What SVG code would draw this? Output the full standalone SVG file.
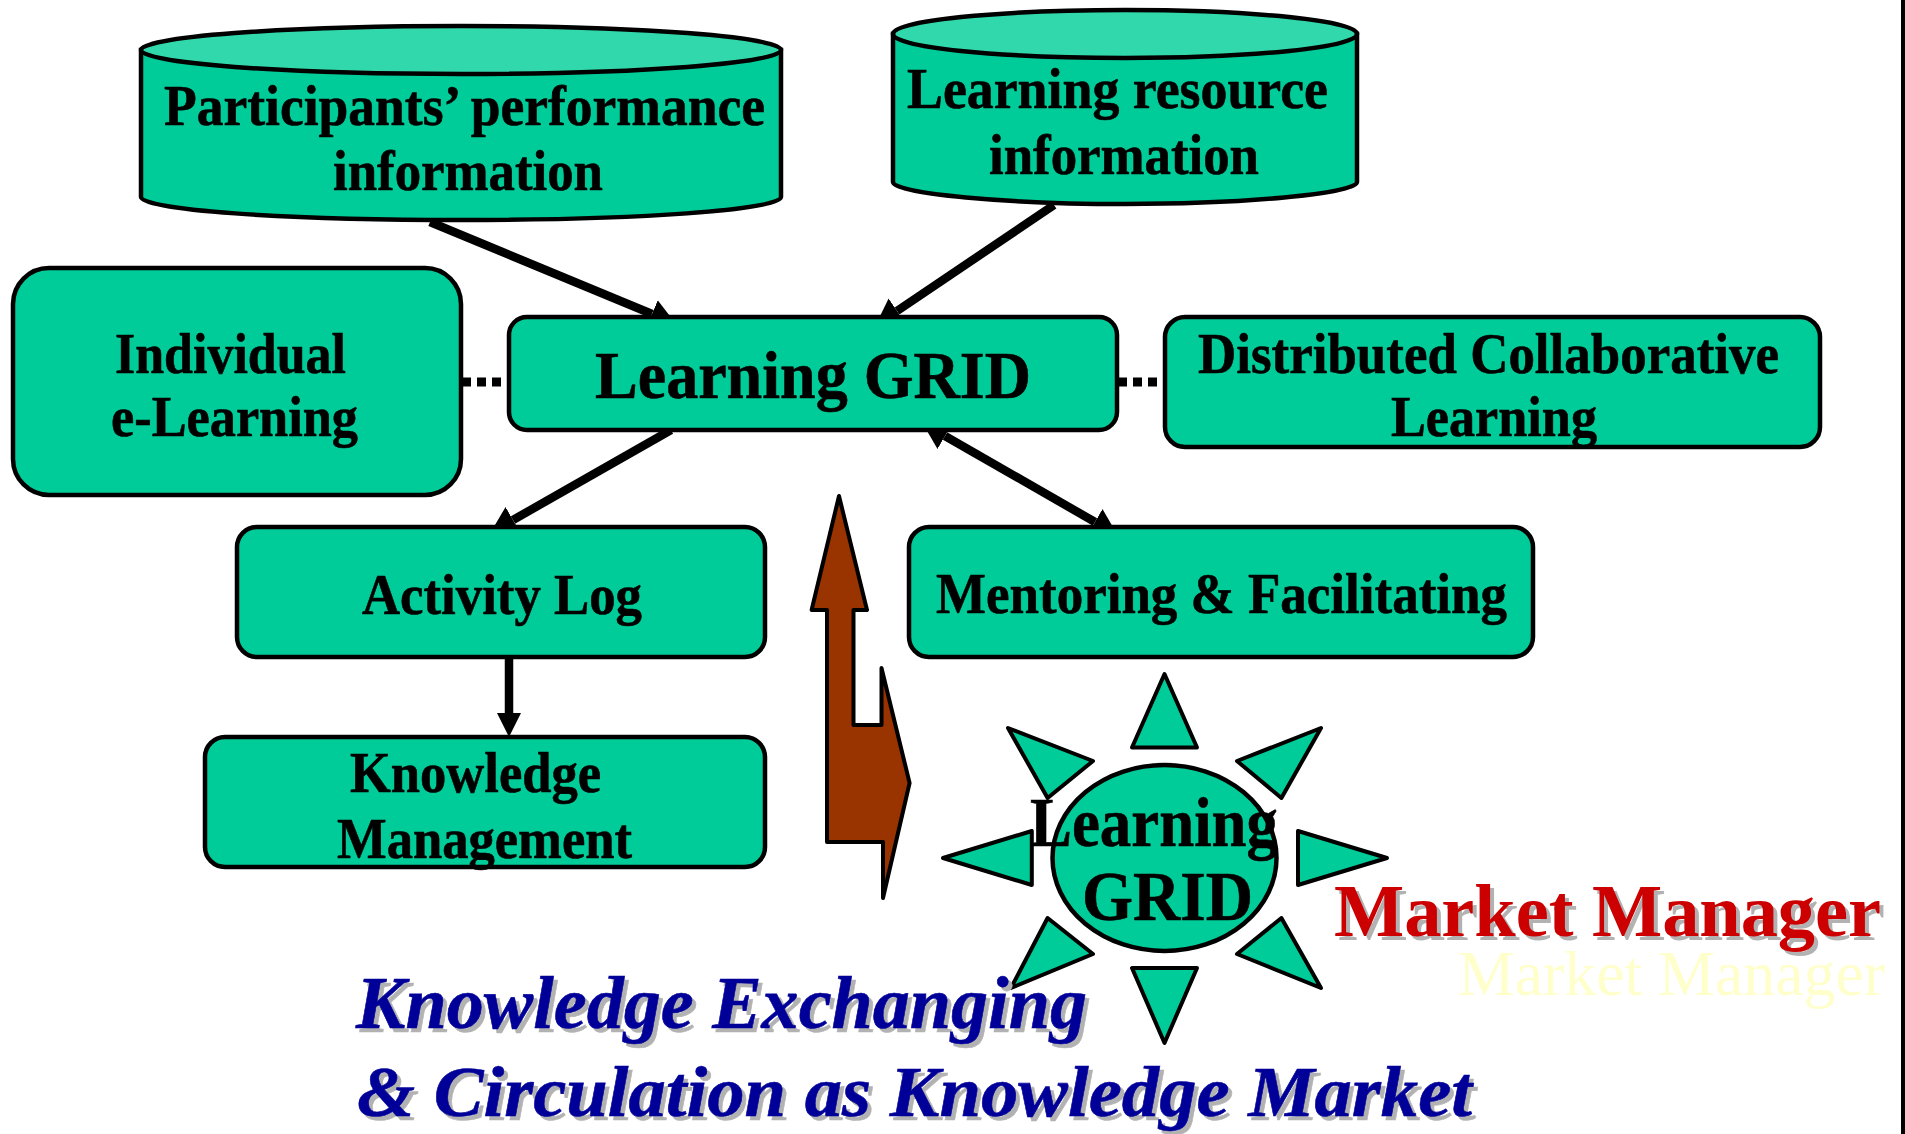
<svg xmlns="http://www.w3.org/2000/svg" width="1905" height="1134" viewBox="0 0 1905 1134">
<defs>
<style>
.box{fill:#00cc99;stroke:#000;stroke-width:4.5}
.lid{fill:#30d8ac;stroke:#000;stroke-width:4.5}
.tri{fill:#00cc99;stroke:#000;stroke-width:4;stroke-linejoin:round}
.con{stroke:#000;stroke-width:8.5;fill:none}
.dot{stroke:#000;stroke-width:9;fill:none;stroke-dasharray:9 6}
.t{font-family:"Liberation Serif","Times New Roman",serif;font-weight:bold;fill:#000;stroke:#000;stroke-width:.6;font-size:56px}
.big{font-size:67px}
.sun{font-size:69px}
.mk{font-family:"Liberation Serif","Times New Roman",serif;font-weight:bold;font-size:74px;fill:#cc0000;filter:drop-shadow(4px 4px 0 #b2b2b2)}
.pale{font-family:"Liberation Serif","Times New Roman",serif;font-size:63px;fill:#ffffcc}
.kn{font-family:"Liberation Serif","Times New Roman",serif;font-weight:bold;font-style:italic;font-size:74px;fill:#000099;stroke:#000099;stroke-width:.6;filter:drop-shadow(4px 4px 0 #b2b2b2)}
</style>
<marker id="h" markerUnits="userSpaceOnUse" markerWidth="28" markerHeight="32" refX="0" refY="15" orient="auto-start-reverse"><path d="M0,0L26,15L0,30Z" fill="#000"/></marker>
<marker id="hs" markerUnits="userSpaceOnUse" markerWidth="26" markerHeight="26" refX="0" refY="12" orient="auto"><path d="M0,0L24,12L0,24Z" fill="#000"/></marker>
</defs>
<rect width="1905" height="1134" fill="#fff"/>
<rect x="1901" y="0" width="4" height="1134" fill="#000"/>
<g id="connectors">
<line class="con" x1="430" y1="222" x2="652" y2="314" marker-end="url(#h)"/>
<line class="con" x1="1054" y1="205" x2="897" y2="311" marker-end="url(#h)"/>
<line class="con" x1="671" y1="430" x2="513" y2="520" marker-end="url(#h)"/>
<line class="con" x1="945" y1="436" x2="1095" y2="522" marker-start="url(#h)" marker-end="url(#h)"/>
<line class="con" x1="509" y1="657" x2="509" y2="713" marker-end="url(#hs)"/>
<line class="dot" x1="462" y1="382" x2="504" y2="382"/>
<line class="dot" x1="1118" y1="382" x2="1158" y2="382"/>
</g>
<g id="participants">
<path class="box" d="M141,50V197C141,210 285,220 461,220C637,220 781,210 781,197V50Z"/>
<ellipse class="lid" cx="461" cy="50" rx="320" ry="24"/>
<text class="t" x="164" y="125" textLength="601" lengthAdjust="spacingAndGlyphs">Participants’ performance</text>
<text class="t" x="333" y="190" textLength="270" lengthAdjust="spacingAndGlyphs">information</text>
</g>
<g id="resource">
<path class="box" d="M893,34V182C893,194 1010,204 1125,204C1240,204 1357,194 1357,182V34Z"/>
<ellipse class="lid" cx="1125" cy="34" rx="232" ry="24"/>
<text class="t" x="907" y="108" textLength="421" lengthAdjust="spacingAndGlyphs">Learning resource</text>
<text class="t" x="989" y="174" textLength="270" lengthAdjust="spacingAndGlyphs">information</text>
</g>
<g id="individual">
<rect class="box" x="13" y="268" width="448" height="227" rx="36" ry="36"/>
<text class="t" x="115" y="373" textLength="231" lengthAdjust="spacingAndGlyphs">Individual</text>
<text class="t" x="111" y="436" textLength="247" lengthAdjust="spacingAndGlyphs">e-Learning</text>
</g>
<g id="learning-grid">
<rect class="box" x="509" y="317" width="608" height="113" rx="18" ry="18"/>
<text class="t big" x="595" y="398" textLength="436" lengthAdjust="spacingAndGlyphs">Learning GRID</text>
</g>
<g id="distributed">
<rect class="box" x="1165" y="317" width="655" height="130" rx="20" ry="20"/>
<text class="t" x="1198" y="373" textLength="581" lengthAdjust="spacingAndGlyphs">Distributed Collaborative</text>
<text class="t" x="1391" y="436" textLength="206" lengthAdjust="spacingAndGlyphs">Learning</text>
</g>
<g id="activity-log">
<rect class="box" x="237" y="527" width="528" height="130" rx="20" ry="20"/>
<text class="t" x="362" y="614" textLength="280" lengthAdjust="spacingAndGlyphs">Activity Log</text>
</g>
<g id="knowledge-management">
<rect class="box" x="205" y="737" width="560" height="130" rx="20" ry="20"/>
<text class="t" x="350" y="792" textLength="251" lengthAdjust="spacingAndGlyphs">Knowledge</text>
<text class="t" x="337" y="858" textLength="295" lengthAdjust="spacingAndGlyphs">Management</text>
</g>
<g id="mentoring">
<rect class="box" x="909" y="527" width="624" height="130" rx="20" ry="20"/>
<text class="t" x="936" y="613" textLength="571" lengthAdjust="spacingAndGlyphs">Mentoring &amp; Facilitating</text>
</g>
<g id="exchange-arrow">
<path d="M839,496L867,610H853.5V725H881.5V668L909.6,783L883,898V842H827V610H811.6Z" fill="#993300" stroke="#000" stroke-width="4" stroke-linejoin="round"/>
</g>
<g id="market-sun">
<polygon class="tri" points="1164.5,674 1197,747.5 1132,747.5"/>
<polygon class="tri" points="1164.5,1043 1132,968 1197,968"/>
<polygon class="tri" points="943,858 1031.8,831 1031.8,885"/>
<polygon class="tri" points="1387,858 1298,831 1298,885"/>
<polygon class="tri" points="1008,728 1093,761 1047.6,798"/>
<polygon class="tri" points="1321,728 1237,761 1281.4,798"/>
<polygon class="tri" points="1047.6,918 1093,954 1011,988"/>
<polygon class="tri" points="1281.4,918 1237,954 1321,988"/>
<ellipse class="box" cx="1164.5" cy="858" rx="112" ry="93"/>
<text class="t sun" x="1030" y="846" textLength="248" lengthAdjust="spacingAndGlyphs">Learning</text>
<text class="t sun" x="1082" y="920" textLength="171" lengthAdjust="spacingAndGlyphs">GRID</text>
</g>
<g id="market-manager">
<text class="mk" x="1334" y="936" textLength="547" lengthAdjust="spacingAndGlyphs">Market Manager</text>
<text class="pale" x="1458" y="995" textLength="427" lengthAdjust="spacingAndGlyphs">Market Manager</text>
</g>
<g id="knowledge-market">
<text class="kn" x="356" y="1028" textLength="731" lengthAdjust="spacingAndGlyphs">Knowledge Exchanging</text>
<text class="kn" style="font-size:72px" x="357" y="1116" textLength="1115" lengthAdjust="spacingAndGlyphs">&amp; Circulation as Knowledge Market</text>
</g>
</svg>
